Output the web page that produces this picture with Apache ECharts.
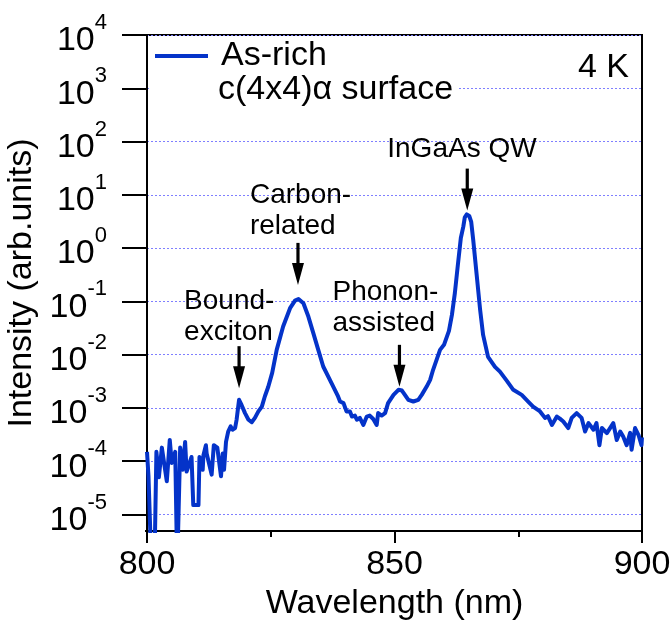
<!DOCTYPE html>
<html>
<head>
<meta charset="utf-8">
<script src="https://cdn.jsdelivr.net/npm/echarts@6/dist/echarts.min.js"></script>
<style>
html,body{margin:0;padding:0;background:#fff;}
#main{width:671px;height:626px;}
</style>
</head>
<body>
<div id="main"></div>
<script>
// ---- data ----
const wavelength = [
 800.0,800.3,800.6,800.9,801.5,801.9,802.4,803.0,803.4,804.0,804.6,805.0,805.7,806.1,806.7,807.2,807.7,808.0,809.0,809.35,
 810.4,810.6,811.25,811.4,811.9,812.05,813.06,813.5,814.2,814.95,815.3,815.56,815.96,816.4,816.9,817.3,817.8,818.1,818.6,819.1,
 819.8,820.5,821.15,821.8,822.5,823.2,823.8,824.5,825.3,826.2,827.5,828.9,829.9,830.6,831.6,832.6,833.6,834.6,835.6,837.3,
 838.6,839.0,839.7,840.3,841.0,841.4,842.0,842.4,843.0,843.7,844.4,845.0,845.7,846.4,846.7,847.4,848.1,848.7,849.8,850.8,
 851.5,852.1,852.8,853.8,854.8,855.5,856.5,857.2,857.8,859.2,860.0,861.0,861.6,862.2,862.8,863.4,863.9,864.2,864.6,865.1,
 865.5,865.9,866.6,867.3,867.9,868.9,870.3,871.3,872.7,874.0,875.7,877.0,878.0,879.4,880.4,881.0,881.8,882.8,883.4,884.1,
 885.1,885.8,886.8,887.8,888.5,889.2,890.2,890.8,891.4,891.9,892.9,894.2,894.9,895.6,896.2,896.9,897.6,897.9,898.6,899.3,
 899.9,900.0
];
const intensity = [
 1.5e-4,5.2e-5,5.5e-5,1e-6,1e-6,1.5e-4,5.0e-5,1.8e-4,1.8e-4,4.2e-5,2.5e-4,9.3e-5,1.5e-4,1e-6,1.8e-4,6.9e-5,2.3e-4,6.4e-5,1.2e-4,1.5e-5,
 1.5e-5,1.2e-4,6.9e-5,1.3e-4,2.0e-4,1.4e-4,5.6e-5,2.0e-4,1.8e-4,5.2e-5,1.4e-4,6.9e-5,2.3e-4,3.6e-4,4.5e-4,3.9e-4,4.2e-4,6.0e-4,1.42e-3,1.14e-3,
 8.0e-4,6.0e-4,5.4e-4,6.5e-4,8.6e-4,1.06e-3,1.64e-3,2.5e-3,4.6e-3,0.0123,0.0337,0.0745,0.1035,0.111,0.0925,0.0519,0.0253,0.0123,0.006,0.0029,
 0.00164,0.00132,0.00123,0.00086,0.00086,0.00069,0.00072,0.0006,0.00065,0.00048,0.00069,0.00072,0.00062,0.00048,0.0008,0.00072,0.0008,0.00123,0.00176,0.00219,
 0.00212,0.00176,0.00142,0.00132,0.00142,0.00176,0.00252,0.00337,0.0052,0.0123,0.0153,0.028,0.0558,0.1445,0.484,1.55,2.53,3.77,4.29,4.02,
 3.10,1.43,0.314,0.0693,0.0235,0.0091,0.0059,0.0048,0.00322,0.00219,0.00176,0.00132,0.00106,0.00086,0.00065,0.0007,0.00048,0.00069,0.00063,0.000556,
 0.00042,0.00065,0.0008,0.00065,0.00036,0.00052,0.00039,0.00052,0.0002,0.00042,0.000337,0.00052,0.00025,0.00036,0.00029,0.0002,0.00034,0.000164,0.00042,0.00031,
 0.0002,0.00028
];
const seriesName = 'As-rich';
const seriesSubtitle = 'c(4x4)\u03b1 surface';
const temperatureLabel = '4 K';
const xTicks = [800, 850, 900];
const annoText = ['Bound-\nexciton', 'Carbon-\nrelated', 'Phonon-\nassisted', 'InGaAs QW'];
const annoWavelength = [818.6, 830.5, 851.0, 864.7];
const annoIntensity = [2.35e-3, 0.204, 2.49e-3, 5.06];

// ---- layout / style ----
const annoDx = [-55, -48, -67, -80];
const annoDy = [-40, -43, -48, -46];
const FONT = 'Liberation Sans, Arial, Helvetica, sans-serif';
const LINE_COLOR = '#0433c9';
const BIG = 34;

const chart = echarts.init(document.getElementById('main'), null, {renderer: 'canvas'});
const data = wavelength.map((w, i) => [w, intensity[i]]);

chart.setOption({
  animation: false,
  textStyle: {fontFamily: FONT, color: '#000'},
  grid: {left: 147, right: 29, top: 35, bottom: 95, containLabel: false, outerBoundsMode: 'none',
         show: true, borderColor: '#000', borderWidth: 2, backgroundColor: 'transparent'},
  legend: {
    left: 155, top: 39, padding: 0,
    itemWidth: 53, itemHeight: 4,
    data: [{name: seriesName, icon: 'rect'}],
    formatter: n => '{a|' + n + '}',
    textStyle: {rich: {a: {fontSize: BIG, fontFamily: FONT, color: '#000', padding: [0, 0, 0, 8]}}}
  },
  xAxis: {
    type: 'value', min: xTicks[0], max: xTicks[xTicks.length - 1], interval: 50,
    name: 'Wavelength (nm)', nameLocation: 'middle', nameGap: 56,
    nameTextStyle: {fontSize: BIG, color: '#000', fontFamily: FONT},
    axisLine: {lineStyle: {color: '#000', width: 2}},
    axisTick: {show: true, inside: false, length: 12, lineStyle: {color: '#000', width: 2}},
    minorTick: {show: true, splitNumber: 2, length: 6, lineStyle: {color: '#000', width: 2}},
    axisLabel: {fontSize: BIG, color: '#000', margin: 17, fontFamily: FONT},
    splitLine: {show: false}
  },
  yAxis: {
    type: 'log', logBase: 10, min: 4.9e-6, max: 1e4, splitNumber: 10,
    name: 'Intensity (arb.units)', nameLocation: 'middle', nameGap: 104,
    nameTextStyle: {fontSize: BIG, color: '#000', fontFamily: FONT},
    axisLine: {lineStyle: {color: '#000', width: 2}},
    axisTick: {show: true, inside: false, length: 25, lineStyle: {color: '#000', width: 2}},
    minorTick: {show: false},
    axisLabel: {
      margin: 40, color: '#000', showMinLabel: true, showMaxLabel: true, hideOverlap: false,
      formatter: v => {
        const e = Math.log10(v), r = Math.round(e);
        if (Math.abs(e - r) > 1e-6) return '';
        return '{b|10}{s|' + r + '}';
      },
      rich: {
        b: {fontSize: BIG, fontFamily: FONT, color: '#000', padding: [12, 0, 0, 0]},
        s: {fontSize: 22, fontFamily: FONT, color: '#000', verticalAlign: 'top'}
      }
    },
    splitLine: {show: true, lineStyle: {color: '#7f7fff', width: 1, type: [2, 2]}}
  },
  series: [{
    name: seriesName, type: 'line', data: data,
    symbol: 'none', showSymbol: false, clip: true,
    lineStyle: {color: LINE_COLOR, width: 4, join: 'round'},
    itemStyle: {color: LINE_COLOR},
    z: 3
  }]
});

// annotations anchored to data coordinates
const g = [
  {type: 'rect', id: 'legendBg', z: 1, shape: {x: 150, y: 37, width: 307, height: 80}, style: {fill: '#fff'}},
  {type: 'rect', id: 'hideMinTick', z: 10, shape: {x: 118, y: 528, width: 27, height: 6}, style: {fill: '#fff'}},
  {type: 'text', id: 'subtitle', z: 10, x: 218, y: 90, style: {text: seriesSubtitle, font: BIG + 'px ' + FONT, fill: '#000', textAlign: 'left', textVerticalAlign: 'middle'}},
  {type: 'text', id: 'temp', z: 10, x: 629, y: 68, style: {text: temperatureLabel, font: BIG + 'px ' + FONT, fill: '#000', textAlign: 'right', textVerticalAlign: 'middle'}}
];
annoText.forEach((t, i) => {
  const p = chart.convertToPixel({xAxisIndex: 0, yAxisIndex: 0}, [annoWavelength[i], annoIntensity[i]]);
  const tx = p[0], ty = p[1];
  g.push({type: 'rect', id: 'shaft' + i, z: 10, shape: {x: tx - 1.6, y: ty - 42, width: 3.2, height: 22}, style: {fill: '#000'}});
  g.push({type: 'polygon', id: 'head' + i, z: 10, shape: {points: [[tx - 6, ty - 22], [tx + 6, ty - 22], [tx, ty]]}, style: {fill: '#000'}});
  g.push({type: 'text', id: 'lbl' + i, z: 10, x: tx + annoDx[i], y: ty + annoDy[i],
    style: {text: t, font: '28px ' + FONT, fill: '#000', textAlign: 'left', textVerticalAlign: 'bottom', lineHeight: 31}});
});
chart.setOption({graphic: g});
</script>
</body>
</html>
